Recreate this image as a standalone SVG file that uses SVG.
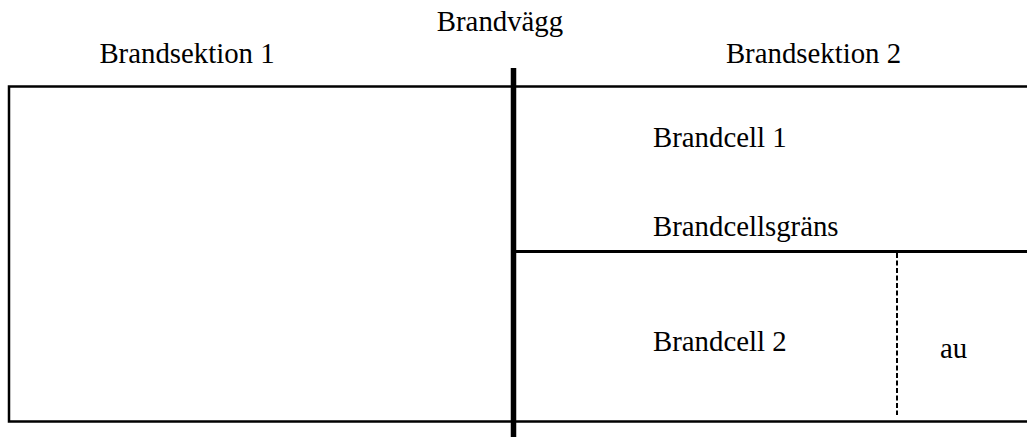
<svg xmlns="http://www.w3.org/2000/svg" width="1027" height="437" viewBox="0 0 1027 437">
<style>
.t{font-family:'Liberation Serif','Times New Roman','DejaVu Serif',serif;font-size:28.8px;fill:#000}
.ln{stroke:#000;fill:none}
</style>
<rect width="1027" height="437" fill="#fff"/>
<g id="connectors">
<path class="ln" d="M1027 86.5H9V421.5H1027" stroke-width="2.5"/>
<line class="ln" x1="513.5" y1="68" x2="513.5" y2="437" stroke-width="5.5"/>
<line class="ln" x1="513" y1="251.5" x2="1027" y2="251.5" stroke-width="3"/>
<line class="ln" x1="897" y1="253" x2="897" y2="415" stroke-width="2" stroke-dasharray="5,2.5"/>
</g>
<g id="brandvagg"><text class="t" x="500" y="31" text-anchor="middle">Brandvägg</text></g>
<g id="brandsektion1"><text class="t" x="187" y="63" text-anchor="middle">Brandsektion 1</text></g>
<g id="brandsektion2"><text class="t" x="813.5" y="63" text-anchor="middle">Brandsektion 2</text></g>
<g id="brandcell1"><text class="t" x="653" y="147">Brandcell 1</text></g>
<g id="brandcellsgrans"><text class="t" x="653" y="236">Brandcellsgräns</text></g>
<g id="brandcell2"><text class="t" x="653" y="351">Brandcell 2</text></g>
<g id="au"><text class="t" x="940" y="358">au</text></g>
</svg>
